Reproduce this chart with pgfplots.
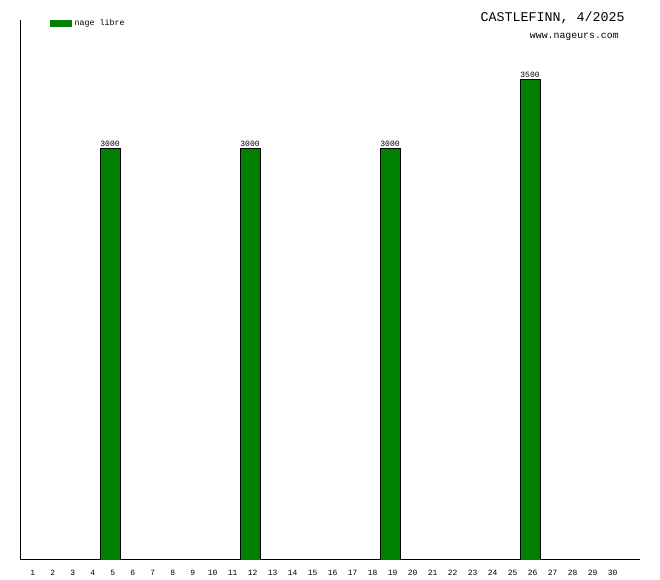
\documentclass[border=0pt]{standalone}
\usepackage{pgfplots}
\pgfplotsset{compat=1.18}
\usepackage{fontspec}
\setmainfont{Liberation Mono}
\definecolor{bargreen}{RGB}{0,128,0}
\begin{document}
\begin{tikzpicture}[x=0.75pt,y=0.75pt]
\useasboundingbox (0,0) rectangle (660,580);
\begin{axis}[
  at={(15pt,15pt)}, anchor=south west,
  scale only axis, width=465pt, height=405pt,
  xmin=0.5, xmax=31.5, ymin=0, ymax=3933,
  axis x line=bottom, axis y line=left,
  axis line style={-, black, line width=0.75pt},
  xtick={1,...,30}, ytick=\empty, major tick length=0pt,
  /pgf/number format/assume math mode=true,
  /pgf/number format/1000 sep={},
  xticklabel style={font=\fontsize{6pt}{7pt}\selectfont, anchor=center, yshift=-9.75pt, xshift=2pt},
  ybar, bar width=15pt,
  nodes near coords,
  nodes near coords style={font=\fontsize{6pt}{7pt}\selectfont, anchor=south, inner sep=0.8pt, /pgf/number format/1000 sep={}},
  legend style={at={(0.048,1.004)}, anchor=north west, draw=none, fill=none, inner sep=0pt,
    font=\fontsize{6.25pt}{7pt}\selectfont, /tikz/every odd column/.append style={column sep=1.2pt},
    nodes={inner sep=1pt}},
  legend image code/.code={\fill[bargreen] (0pt,-2.25pt) rectangle (15.75pt,2.25pt);},
]
\addplot[fill=bargreen, draw=black, line width=0.5pt] coordinates {(5,3000) (12,3000) (19,3000) (26,3500)};
\addlegendentry{nage libre}
\end{axis}
\node[anchor=east, font=\fontsize{10pt}{12pt}\selectfont, inner sep=0pt] at (625,562) {CASTLEFINN, 4/2025};
\node[anchor=east, font=\fontsize{7.4pt}{9pt}\selectfont, inner sep=0pt] at (619,543) {www.nageurs.com};
\end{tikzpicture}
\end{document}
